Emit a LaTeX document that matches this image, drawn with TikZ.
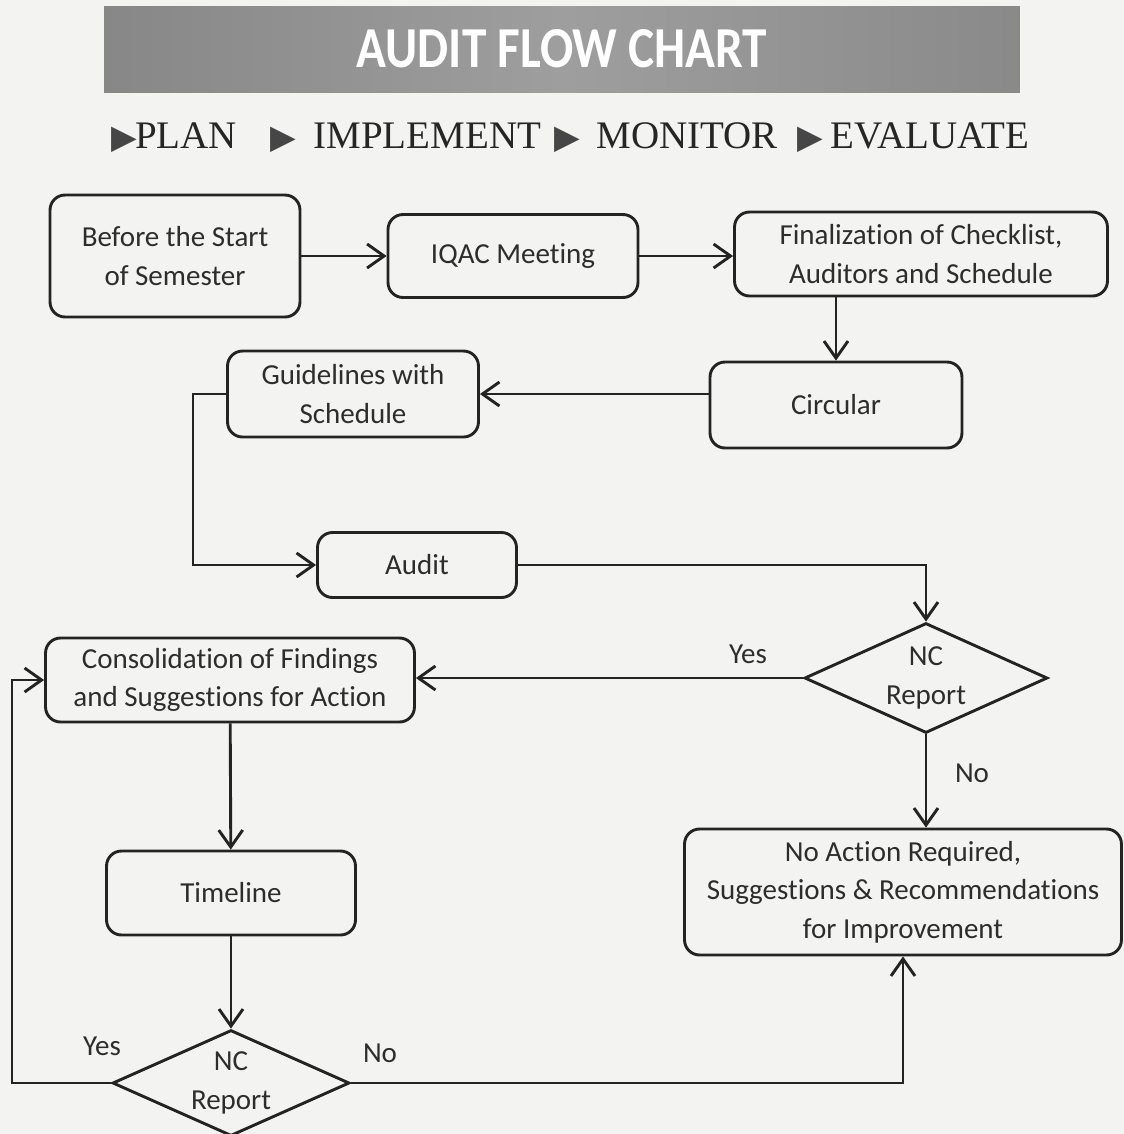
\documentclass[tikz,border=0pt]{standalone}
\usepackage{fontspec}
\setmainfont[Ligatures=NoCommon]{Carlito}
\newfontfamily\titlefont[FakeStretch=0.85]{Carlito}
\newfontfamily\headserif{Liberation Serif}
\newfontfamily\symfont{DejaVu Sans}
\usetikzlibrary{shapes.geometric, arrows.meta}

\definecolor{linec}{RGB}{35,35,35}
\definecolor{textc}{RGB}{45,45,45}
\definecolor{paperc}{RGB}{243,243,241}
\definecolor{tric}{RGB}{70,70,70}
\newcommand\boxfont{\fontsize{16.5pt}{22pt}\selectfont}
\newcommand\tri{{\symfont\fontsize{19pt}{19pt}\selectfont\textcolor{tric}{▶}}}

\begin{document}
\begin{tikzpicture}[x=0.02cm, y=-0.02cm,
    box/.style={rectangle, rounded corners=0.3cm, draw=linec, line width=0.058cm, text=textc, align=center, font=\boxfont},
    decision/.style={diamond, draw=linec, line width=0.058cm, inner sep=0pt},
    flow/.style={draw=linec, line width=0.058cm, -{Straight Barb[length=0.34cm, width=0.48cm]}},
    lbl/.style={text=textc, align=center, font=\boxfont}]
    % Paper
    \fill[paperc] (0,0) rectangle (1124,1134);
    \useasboundingbox (0,0) rectangle (1124,1134);

    % Heading
    \node[rectangle, minimum width=18.32cm, minimum height=1.72cm, left color=black!47, right color=black!46, middle color=black!38, text=white, font=\titlefont\bfseries\fontsize{33pt}{33pt}\selectfont] (TITLE) at (562,49) {AUDIT FLOW CHART};
    \node[anchor=base west, inner sep=0pt, text=black!85, font=\headserif\fontsize{22.2pt}{24pt}\selectfont] (STEPS) at (111,148) {\tri\hspace{-0.04cm}PLAN\hspace{0.68cm}\tri\hspace{0.34cm}IMPLEMENT\hspace{0.26cm}\tri\hspace{0.34cm}MONITOR\hspace{0.38cm}\tri\hspace{0.16cm}EVALUATE};

    % Planning
    \node[box, minimum width=5cm, minimum height=2.44cm] (START) at (175,256) {Before the Start\\of Semester};
    \node[box, minimum width=5cm, minimum height=1.66cm] (IQAC) at (513,256) {IQAC Meeting};
    \node[box, minimum width=7.46cm, minimum height=1.68cm] (FINAL) at (921,254) {Finalization of Checklist,\\Auditors and Schedule};
    \node[box, minimum width=5.04cm, minimum height=1.72cm] (CIRC) at (836,405) {Circular};
    \node[box, minimum width=5.02cm, minimum height=1.72cm] (GUIDE) at (353,394) {Guidelines with\\Schedule};

    % Audit and outcome
    \node[box, minimum width=3.98cm, minimum height=1.3cm] (AUDIT) at (417,565) {Audit};
    \node[decision, minimum width=4.86cm, minimum height=2.2cm] (NC1) at (926,678) {};
    \node[lbl] (NC1txt) at (NC1) {NC\\Report};
    \node[box, minimum width=7.38cm, minimum height=1.68cm] (CONS) at (230,680) {Consolidation of Findings\\and Suggestions for Action};
    \node[box, minimum width=8.74cm, minimum height=2.52cm] (NOACT) at (903,892) {No Action Required,\\Suggestions \& Recommendations\\for Improvement};
    \node[box, minimum width=4.98cm, minimum height=1.68cm] (TIME) at (231,893) {Timeline};
    \node[decision, minimum width=4.74cm, minimum height=2.12cm] (NC2) at (231,1083) {};
    \node[lbl] (NC2txt) at (NC2) {NC\\Report};

    % Branch labels
    \node[lbl] (YES1) at (748,654) {Yes};
    \node[lbl] (NO1) at (972,773) {No};
    \node[lbl] (YES2) at (102,1046) {Yes};
    \node[lbl] (NO2) at (380,1053) {No};

    % Connections
    \coordinate (gbend) at (193,394);
    \coordinate (loopL) at (12,1083);
    \draw[flow] (START) -- (IQAC);
    \draw[flow] (IQAC.east) -- (IQAC.east -| FINAL.west);
    \draw[flow] (FINAL.south -| CIRC.north) -- (CIRC.north);
    \draw[flow] (CIRC.west |- GUIDE.east) -- (GUIDE.east);
    \draw[flow] (GUIDE.west) -- (gbend) |- (AUDIT.west);
    \draw[flow] (AUDIT.east) -| (NC1.north);
    \draw[flow] (NC1.west) -- (NC1.west -| CONS.east);
    \draw[flow] (NC1.south) -- (NC1.south |- NOACT.north);
    \draw[flow] (CONS) -- (TIME);
    \draw[flow] (TIME) -- (NC2);
    \draw[flow] (NC2.west) -- (loopL) |- (CONS.west);
    \draw[flow] (NC2.east) -| (NOACT.south);
\end{tikzpicture}
\end{document}
